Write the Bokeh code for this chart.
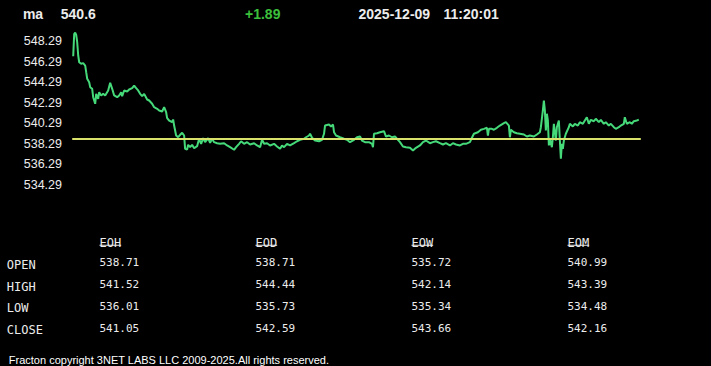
from bokeh.plotting import figure
from bokeh.models import Label, BoxAnnotation, Range1d
from bokeh.embed import file_html
from bokeh.resources import INLINE

# ---------------- data ----------------
symbol = "ma"
date_str = "2025-12-09"
time_str = "11:20:01"
open_price = 538.71

t = [0, 1, 2, 3, 4, 5, 6, 8, 10, 12, 13, 14, 16, 17, 19, 20, 22, 23, 25, 26,
     28, 30, 32, 35, 37, 39, 41, 44, 46, 48, 49, 51, 54, 56, 59, 61, 63, 65, 67, 69,
     71, 74, 76, 79, 81, 84, 86, 89, 91, 93, 94, 96, 99, 100, 101, 103, 105, 107, 109, 111,
     112, 114, 115, 117, 119, 121, 124, 126, 128, 130, 132, 135, 137, 139, 141, 144, 147, 151, 154, 157,
     161, 163, 166, 168, 171, 174, 177, 181, 184, 187, 189, 191, 194, 197, 201, 204, 207, 209, 211, 214,
     217, 221, 224, 227, 231, 233, 236, 237, 239, 242, 246, 249, 251, 252, 256, 258, 260, 261, 263, 267,
     271, 274, 277, 281, 284, 287, 289, 292, 296, 299, 300, 301, 304, 307, 311, 313, 316, 319, 322, 325,
     327, 330, 333, 337, 340, 343, 347, 350, 353, 357, 360, 363, 367, 370, 373, 377, 380, 383, 387, 390,
     393, 397, 399, 401, 405, 408, 411, 414, 415, 416, 419, 421, 424, 427, 431, 433, 436, 437, 438, 441,
     444, 447, 451, 454, 457, 461, 464, 467, 468, 470, 471, 472, 473, 474, 475, 476, 477, 479, 480, 481,
     483, 484, 486, 487, 488, 489, 490, 491, 493, 496, 497, 500, 502, 505, 507, 510, 512, 514, 516, 518,
     521, 523, 526, 528, 531, 533, 536, 538, 541, 543, 546, 548, 551, 552, 554, 557, 559, 561, 564, 566]

price = [546.79, 548.97, 549.07, 548.87, 548.15, 546.86, 546.20, 546.05, 546.11, 545.88,
         545.23, 544.59, 544.25, 543.77, 543.61, 542.79, 542.15, 543.12, 542.64, 543.28,
         542.96, 543.12, 542.96, 543.45, 544.20, 543.61, 542.96, 542.79, 542.96, 543.28,
         542.89, 543.45, 543.35, 543.54, 543.67, 543.93, 543.67, 543.45, 543.12, 542.89,
         543.12, 542.57, 542.47, 542.15, 541.82, 541.66, 541.50, 541.40, 541.82, 541.33,
         540.75, 540.52, 540.36, 540.62, 540.03, 539.06, 538.89, 539.13, 539.32, 539.06,
         537.76, 537.70, 538.15, 537.92, 538.15, 537.82, 538.02, 538.74, 538.25, 538.80,
         538.41, 538.80, 538.35, 538.74, 538.41, 538.31, 538.25, 538.31, 538.09, 537.92,
         537.67, 537.92, 538.25, 538.50, 538.25, 538.41, 538.18, 538.31, 538.09, 537.92,
         538.64, 538.25, 538.31, 538.09, 538.25, 537.99, 537.76, 538.09, 537.92, 538.25,
         538.09, 538.31, 538.50, 538.64, 538.74, 538.89, 539.06, 539.23, 538.84, 538.57,
         538.50, 538.64, 539.23, 540.03, 540.13, 539.94, 540.13, 539.38, 539.06, 538.89,
         538.74, 538.64, 538.41, 538.64, 538.89, 538.96, 538.57, 538.41, 538.41, 538.25,
         537.92, 539.23, 539.28, 539.38, 539.48, 538.96, 539.06, 538.89, 538.96, 538.64,
         538.41, 537.99, 537.92, 537.86, 537.60, 537.86, 538.09, 538.41, 538.57, 538.31,
         538.41, 538.50, 538.31, 538.18, 538.31, 538.09, 538.31, 538.18, 538.09, 538.25,
         538.25, 538.41, 538.84, 539.23, 539.38, 539.62, 539.71, 539.81, 539.06, 539.71,
         539.71, 539.62, 539.81, 540.03, 540.26, 540.36, 540.03, 538.89, 539.62, 539.38,
         539.28, 539.23, 539.16, 538.96, 539.06, 538.96, 539.16, 539.38, 539.87, 541.50,
         542.47, 541.50, 539.55, 541.18, 540.52, 538.09, 538.74, 537.92, 538.89, 540.20,
         538.57, 539.87, 540.52, 538.57, 536.79, 538.25, 537.76, 538.57, 539.23, 539.87,
         540.20, 539.94, 540.20, 540.03, 540.36, 540.20, 540.52, 540.84, 540.20, 540.59,
         540.45, 540.69, 540.36, 540.59, 540.20, 540.36, 540.03, 540.20, 539.87, 539.71,
         539.87, 540.03, 540.20, 540.84, 540.20, 540.36, 540.20, 540.45, 540.52, 540.60]

y_ticks = [534.29, 536.29, 538.29, 540.29, 542.29, 544.29, 546.29, 548.29]

periods = ["EOH", "EOD", "EOW", "EOM"]
row_names = ["OPEN", "HIGH", "LOW", "CLOSE"]
eoh = [538.71, 541.52, 536.01, 541.05]
eod = [538.71, 544.44, 535.73, 542.59]
eow = [535.72, 542.14, 535.34, 543.66]
eom = [540.99, 543.39, 534.48, 542.16]
table_cols = [eoh, eod, eow, eom]

footer = "Fracton copyright 3NET LABS LLC 2009-2025.All rights reserved."

# ---------------- layout / style ----------------
W, H = 711, 366
PX_PER_UNIT = 10.26          # vertical pixels per price unit
TOP_TICK_Y = 40.3            # canvas y of the top tick
X0 = 72.7                    # canvas x of the first sample
PX_PER_T = 0.9993

y_top = y_ticks[-1] + TOP_TICK_Y / PX_PER_UNIT
y_bot = y_top - H / PX_PER_UNIT
x_start = -X0 / PX_PER_T
x_end = x_start + W / PX_PER_T

LINE_GREEN = "#45d97a"
OPEN_YELLOW = "#d9e36b"
CHG_GREEN = "#3cc03c"
TEXT = "#ececec"

p = figure(width=W, height=H, output_backend="svg", toolbar_location=None,
           x_range=Range1d(x_start, x_end), y_range=Range1d(y_bot, y_top),
           min_border=0, x_axis_location=None, y_axis_location=None,
           background_fill_color="black", border_fill_color="black",
           outline_line_color=None)
p.grid.visible = False

p.line(t, price, line_color=LINE_GREEN, line_width=2)
p.line([t[0] - 1, t[-1] + 2], [open_price, open_price], line_color=OPEN_YELLOW, line_width=2)


def lab(text, cx, cy, size, color, font="Liberation Sans", style="normal"):
    p.add_layout(Label(x=cx, y=H - cy, x_units="screen", y_units="screen",
                       text=text, text_align="left", text_baseline="alphabetic",
                       text_font=font, text_font_size=size, text_color=color,
                       text_font_style=style))


# price scale labels (positioned on the data scale)
for tv in y_ticks:
    p.add_layout(Label(x=61.5, y=tv, x_units="screen", y_units="data",
                       text=f"{tv:.2f}", text_align="right", text_baseline="middle",
                       text_font="Liberation Sans", text_font_size="12.5px",
                       text_color=TEXT))

last = price[-1]
chg = last - open_price
HEAD_BASE = 13.4
lab(symbol, 22.4, HEAD_BASE, "14px", TEXT, style="bold")
lab(f"{last:.1f}", 60.3, HEAD_BASE, "14px", TEXT, style="bold")
lab(f"{chg:+.2f}", 244.5, HEAD_BASE, "14px", CHG_GREEN, style="bold")
lab(date_str, 358, HEAD_BASE, "14px", TEXT, style="bold")
lab(time_str, 443, HEAD_BASE, "14px", TEXT, style="bold")

MONO = "DejaVu Sans Mono"
COL_X0, COL_STEP = 99.0, 156
HDR_BASE = 242.3
ROW_BASE0, VAL_BASE0, ROW_STEP = 264.1, 261.8, 21.9
HDR_SIZE = 12

for i, name in enumerate(periods):
    cx = COL_X0 + i * COL_STEP
    lab(name, cx, HDR_BASE, f"{HDR_SIZE}px", TEXT, font=MONO)
    wtxt = len(name) * 0.602 * HDR_SIZE
    p.add_layout(BoxAnnotation(left=cx, right=cx + wtxt,
                               top=H - 244.3, bottom=H - 245.3,
                               left_units="screen", right_units="screen",
                               top_units="screen", bottom_units="screen",
                               fill_color=TEXT, fill_alpha=1.0, line_alpha=0))

for r, rn in enumerate(row_names):
    lab(rn, 6.3, ROW_BASE0 + r * ROW_STEP, f"{HDR_SIZE}px", TEXT, font=MONO)
    for i, col in enumerate(table_cols):
        lab(f"{col[r]:.2f}", COL_X0 + i * COL_STEP, VAL_BASE0 + r * ROW_STEP,
            "11px", TEXT, font=MONO)

lab(footer, 8.3, 359, "11px", "#ffffff")

html = file_html(p, INLINE, title="Fracton")
html = html.replace("<head>", "<head><style>html,body{background:#000;}</style>", 1)
open("out.html", "w").write(html)
